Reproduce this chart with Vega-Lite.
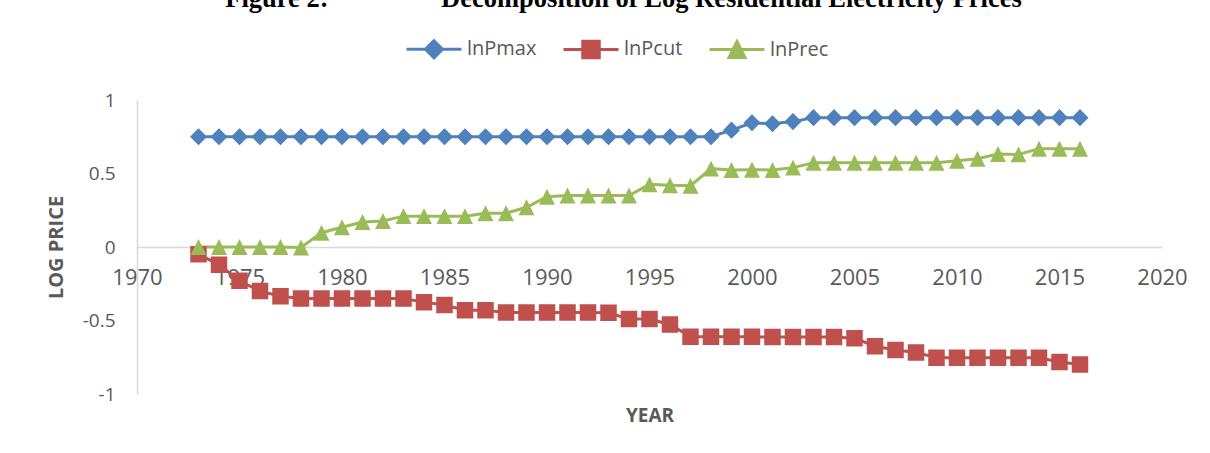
{
  "$schema": "https://vega.github.io/schema/vega-lite/v6.json",
  "width": 1025,
  "height": 294,
  "autosize": {"type": "none"},
  "padding": {"left": 137, "top": 100, "right": 48, "bottom": 59},
  "background": "white",
  "title": {
    "text": "Figure 2:\u00a0\u00a0\u00a0\u00a0\u00a0\u00a0\u00a0\u00a0\u00a0\u00a0\u00a0\u00a0\u00a0\u00a0\u00a0\u00a0\u00a0Decomposition of Log Residential Electricity Prices",
    "font": "Liberation Serif",
    "fontSize": 26.5,
    "fontWeight": "bold",
    "color": "#000000",
    "anchor": "middle",
    "frame": "group",
    "dx": -26,
    "dy": 0,
    "offset": 8
  },
  "data": {
    "values": [
      {"year": 1973, "series": "lnPmax", "value": 0.75},
      {"year": 1974, "series": "lnPmax", "value": 0.75},
      {"year": 1975, "series": "lnPmax", "value": 0.75},
      {"year": 1976, "series": "lnPmax", "value": 0.75},
      {"year": 1977, "series": "lnPmax", "value": 0.75},
      {"year": 1978, "series": "lnPmax", "value": 0.75},
      {"year": 1979, "series": "lnPmax", "value": 0.75},
      {"year": 1980, "series": "lnPmax", "value": 0.75},
      {"year": 1981, "series": "lnPmax", "value": 0.75},
      {"year": 1982, "series": "lnPmax", "value": 0.75},
      {"year": 1983, "series": "lnPmax", "value": 0.75},
      {"year": 1984, "series": "lnPmax", "value": 0.75},
      {"year": 1985, "series": "lnPmax", "value": 0.75},
      {"year": 1986, "series": "lnPmax", "value": 0.75},
      {"year": 1987, "series": "lnPmax", "value": 0.75},
      {"year": 1988, "series": "lnPmax", "value": 0.75},
      {"year": 1989, "series": "lnPmax", "value": 0.75},
      {"year": 1990, "series": "lnPmax", "value": 0.75},
      {"year": 1991, "series": "lnPmax", "value": 0.75},
      {"year": 1992, "series": "lnPmax", "value": 0.75},
      {"year": 1993, "series": "lnPmax", "value": 0.75},
      {"year": 1994, "series": "lnPmax", "value": 0.75},
      {"year": 1995, "series": "lnPmax", "value": 0.75},
      {"year": 1996, "series": "lnPmax", "value": 0.75},
      {"year": 1997, "series": "lnPmax", "value": 0.75},
      {"year": 1998, "series": "lnPmax", "value": 0.75},
      {"year": 1999, "series": "lnPmax", "value": 0.795},
      {"year": 2000, "series": "lnPmax", "value": 0.845},
      {"year": 2001, "series": "lnPmax", "value": 0.838},
      {"year": 2002, "series": "lnPmax", "value": 0.853},
      {"year": 2003, "series": "lnPmax", "value": 0.88},
      {"year": 2004, "series": "lnPmax", "value": 0.88},
      {"year": 2005, "series": "lnPmax", "value": 0.88},
      {"year": 2006, "series": "lnPmax", "value": 0.88},
      {"year": 2007, "series": "lnPmax", "value": 0.88},
      {"year": 2008, "series": "lnPmax", "value": 0.88},
      {"year": 2009, "series": "lnPmax", "value": 0.88},
      {"year": 2010, "series": "lnPmax", "value": 0.88},
      {"year": 2011, "series": "lnPmax", "value": 0.88},
      {"year": 2012, "series": "lnPmax", "value": 0.88},
      {"year": 2013, "series": "lnPmax", "value": 0.88},
      {"year": 2014, "series": "lnPmax", "value": 0.88},
      {"year": 2015, "series": "lnPmax", "value": 0.88},
      {"year": 2016, "series": "lnPmax", "value": 0.88},
      {"year": 1973, "series": "lnPcut", "value": -0.05},
      {"year": 1974, "series": "lnPcut", "value": -0.12},
      {"year": 1975, "series": "lnPcut", "value": -0.23},
      {"year": 1976, "series": "lnPcut", "value": -0.3},
      {"year": 1977, "series": "lnPcut", "value": -0.335},
      {"year": 1978, "series": "lnPcut", "value": -0.35},
      {"year": 1979, "series": "lnPcut", "value": -0.35},
      {"year": 1980, "series": "lnPcut", "value": -0.35},
      {"year": 1981, "series": "lnPcut", "value": -0.35},
      {"year": 1982, "series": "lnPcut", "value": -0.35},
      {"year": 1983, "series": "lnPcut", "value": -0.35},
      {"year": 1984, "series": "lnPcut", "value": -0.375},
      {"year": 1985, "series": "lnPcut", "value": -0.395},
      {"year": 1986, "series": "lnPcut", "value": -0.43},
      {"year": 1987, "series": "lnPcut", "value": -0.43},
      {"year": 1988, "series": "lnPcut", "value": -0.445},
      {"year": 1989, "series": "lnPcut", "value": -0.445},
      {"year": 1990, "series": "lnPcut", "value": -0.445},
      {"year": 1991, "series": "lnPcut", "value": -0.445},
      {"year": 1992, "series": "lnPcut", "value": -0.445},
      {"year": 1993, "series": "lnPcut", "value": -0.447},
      {"year": 1994, "series": "lnPcut", "value": -0.49},
      {"year": 1995, "series": "lnPcut", "value": -0.49},
      {"year": 1996, "series": "lnPcut", "value": -0.527},
      {"year": 1997, "series": "lnPcut", "value": -0.61},
      {"year": 1998, "series": "lnPcut", "value": -0.61},
      {"year": 1999, "series": "lnPcut", "value": -0.61},
      {"year": 2000, "series": "lnPcut", "value": -0.61},
      {"year": 2001, "series": "lnPcut", "value": -0.613},
      {"year": 2002, "series": "lnPcut", "value": -0.613},
      {"year": 2003, "series": "lnPcut", "value": -0.613},
      {"year": 2004, "series": "lnPcut", "value": -0.613},
      {"year": 2005, "series": "lnPcut", "value": -0.62},
      {"year": 2006, "series": "lnPcut", "value": -0.675},
      {"year": 2007, "series": "lnPcut", "value": -0.7},
      {"year": 2008, "series": "lnPcut", "value": -0.717},
      {"year": 2009, "series": "lnPcut", "value": -0.753},
      {"year": 2010, "series": "lnPcut", "value": -0.753},
      {"year": 2011, "series": "lnPcut", "value": -0.753},
      {"year": 2012, "series": "lnPcut", "value": -0.753},
      {"year": 2013, "series": "lnPcut", "value": -0.753},
      {"year": 2014, "series": "lnPcut", "value": -0.753},
      {"year": 2015, "series": "lnPcut", "value": -0.782},
      {"year": 2016, "series": "lnPcut", "value": -0.8},
      {"year": 1973, "series": "lnPrec", "value": 0.0},
      {"year": 1974, "series": "lnPrec", "value": 0.0},
      {"year": 1975, "series": "lnPrec", "value": 0.0},
      {"year": 1976, "series": "lnPrec", "value": 0.0},
      {"year": 1977, "series": "lnPrec", "value": 0.0},
      {"year": 1978, "series": "lnPrec", "value": -0.003},
      {"year": 1979, "series": "lnPrec", "value": 0.097},
      {"year": 1980, "series": "lnPrec", "value": 0.134},
      {"year": 1981, "series": "lnPrec", "value": 0.17},
      {"year": 1982, "series": "lnPrec", "value": 0.177},
      {"year": 1983, "series": "lnPrec", "value": 0.21},
      {"year": 1984, "series": "lnPrec", "value": 0.21},
      {"year": 1985, "series": "lnPrec", "value": 0.21},
      {"year": 1986, "series": "lnPrec", "value": 0.21},
      {"year": 1987, "series": "lnPrec", "value": 0.23},
      {"year": 1988, "series": "lnPrec", "value": 0.23},
      {"year": 1989, "series": "lnPrec", "value": 0.27},
      {"year": 1990, "series": "lnPrec", "value": 0.342},
      {"year": 1991, "series": "lnPrec", "value": 0.35},
      {"year": 1992, "series": "lnPrec", "value": 0.35},
      {"year": 1993, "series": "lnPrec", "value": 0.35},
      {"year": 1994, "series": "lnPrec", "value": 0.35},
      {"year": 1995, "series": "lnPrec", "value": 0.426},
      {"year": 1996, "series": "lnPrec", "value": 0.42},
      {"year": 1997, "series": "lnPrec", "value": 0.417},
      {"year": 1998, "series": "lnPrec", "value": 0.533},
      {"year": 1999, "series": "lnPrec", "value": 0.524},
      {"year": 2000, "series": "lnPrec", "value": 0.526},
      {"year": 2001, "series": "lnPrec", "value": 0.524},
      {"year": 2002, "series": "lnPrec", "value": 0.54},
      {"year": 2003, "series": "lnPrec", "value": 0.573},
      {"year": 2004, "series": "lnPrec", "value": 0.573},
      {"year": 2005, "series": "lnPrec", "value": 0.573},
      {"year": 2006, "series": "lnPrec", "value": 0.573},
      {"year": 2007, "series": "lnPrec", "value": 0.573},
      {"year": 2008, "series": "lnPrec", "value": 0.573},
      {"year": 2009, "series": "lnPrec", "value": 0.573},
      {"year": 2010, "series": "lnPrec", "value": 0.587},
      {"year": 2011, "series": "lnPrec", "value": 0.6},
      {"year": 2012, "series": "lnPrec", "value": 0.633},
      {"year": 2013, "series": "lnPrec", "value": 0.63},
      {"year": 2014, "series": "lnPrec", "value": 0.669},
      {"year": 2015, "series": "lnPrec", "value": 0.669},
      {"year": 2016, "series": "lnPrec", "value": 0.669}
    ]
  },
  "encoding": {
    "x": {
      "field": "year",
      "type": "quantitative",
      "scale": {"domain": [1970, 2020], "nice": false, "zero": false},
      "axis": {
        "values": [1970, 1975, 1980, 1985, 1990, 1995, 2000, 2005, 2010, 2015, 2020],
        "format": "d",
        "offset": -147,
        "ticks": false,
        "grid": false,
        "domainColor": "#d9d9d9",
        "domainWidth": 1.5,
        "labelFont": "Open Sans",
        "labelFontSize": 22,
        "labelColor": "#595959",
        "labelPadding": 20,
        "labelFlush": false,
        "labelOverlap": false,
        "title": "YEAR",
        "titleFont": "Open Sans",
        "titleFontSize": 19,
        "titleFontWeight": "bold",
        "titleColor": "#595959",
        "titlePadding": 118
      }
    },
    "y": {
      "field": "value",
      "type": "quantitative",
      "scale": {"domain": [-1, 1], "nice": false},
      "axis": {
        "values": [-1, -0.5, 0, 0.5, 1],
        "labelExpr": "'' + datum.value",
        "ticks": false,
        "grid": false,
        "domainColor": "#d9d9d9",
        "domainWidth": 1.5,
        "labelFont": "Open Sans",
        "labelFontSize": 19,
        "labelColor": "#595959",
        "labelPadding": 22,
        "title": "LOG PRICE",
        "titleFont": "Open Sans",
        "titleFontSize": 20,
        "titleFontWeight": "bold",
        "titleColor": "#595959",
        "titlePadding": 16
      }
    }
  },
  "layer": [
    {
      "mark": {"type": "line", "strokeWidth": 3},
      "encoding": {
        "stroke": {
          "field": "series",
          "type": "nominal",
          "scale": {"domain": ["lnPmax", "lnPcut", "lnPrec"], "range": ["#4F81BD", "#C0504D", "#9BBB59"]},
          "legend": {
            "title": null,
            "orient": "none",
            "direction": "horizontal",
            "legendX": 268,
            "legendY": -80,
            "labelFont": "Open Sans",
            "labelFontSize": 20,
            "labelColor": "#595959",
            "labelOffset": 4,
            "columnPadding": 20,
            "symbolSize": 3025,
            "symbolStrokeWidth": 3,
            "symbolOpacity": 1
          }
        },
        "detail": {"field": "series"}
      }
    },
    {
      "mark": {"type": "point", "filled": true, "size": 3025, "opacity": 1},
      "encoding": {
        "fill": {
          "field": "series",
          "type": "nominal",
          "scale": {"domain": ["lnPmax", "lnPcut", "lnPrec"], "range": ["#4F81BD", "#C0504D", "#9BBB59"]},
          "legend": {
            "title": null,
            "orient": "none",
            "direction": "horizontal",
            "legendX": 268,
            "legendY": -80,
            "labelFont": "Open Sans",
            "labelFontSize": 20,
            "labelColor": "#595959",
            "labelOffset": 4,
            "columnPadding": 20,
            "symbolSize": 3025,
            "symbolStrokeWidth": 3,
            "symbolOpacity": 1
          }
        },
        "shape": {
          "field": "series",
          "type": "nominal",
          "scale": {
            "domain": ["lnPmax", "lnPcut", "lnPrec"],
            "range": [
              "M-1,0L1,0M0,-0.31L0.31,0L0,0.31L-0.31,0Z",
              "M-1,0L1,0M-0.3,-0.3L0.3,-0.3L0.3,0.3L-0.3,0.3Z",
              "M-1,0L1,0M0,-0.29L0.29,0.29L-0.29,0.29Z"
            ]
          },
          "legend": {
            "title": null,
            "orient": "none",
            "direction": "horizontal",
            "legendX": 268,
            "legendY": -80,
            "labelFont": "Open Sans",
            "labelFontSize": 20,
            "labelColor": "#595959",
            "labelOffset": 4,
            "columnPadding": 20,
            "symbolSize": 3025,
            "symbolStrokeWidth": 3,
            "symbolOpacity": 1
          }
        }
      }
    }
  ],
  "config": {
    "view": {"stroke": null}
  }
}
